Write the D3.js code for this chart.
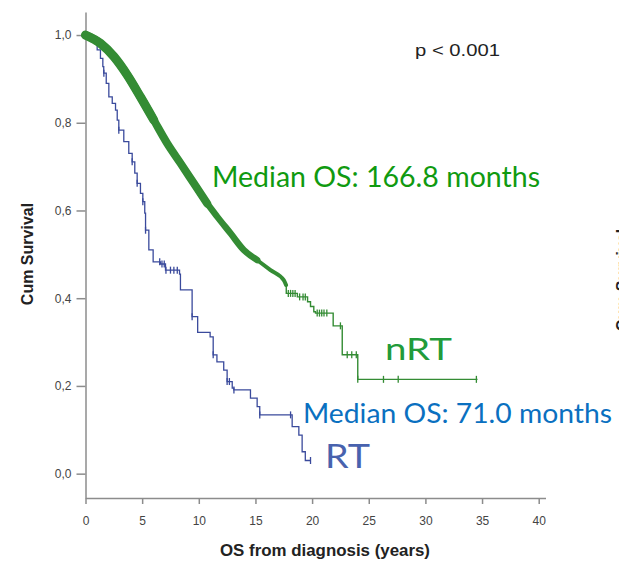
<!DOCTYPE html>
<html lang="en">
<head>
<meta charset="UTF-8">
<title>Cum Survival - OS from diagnosis</title>
<script src="https://d3js.org/d3.v7.min.js"></script>
<style>
  body { margin: 0; background: #fff; }
  svg { display: block; }
  .axis path, .axis line { stroke: #8c8c8c; stroke-width: 1.5; }
  .axis text { fill: #444; font-family: "Liberation Sans", Arial, sans-serif; font-size: 12px; }
</style>
</head>
<body>
<div id="chart"></div>
<script>
// values: time in years, cumulative survival

// RT group (step curve)
var rtTimes = [0, 0.5, 1.03, 1.32, 1.53, 1.61, 1.83, 2.06, 2.36, 2.65, 2.8, 2.94, 3.38, 3.82, 4.12, 4.35,
               4.56, 4.85, 5.06, 5.23, 5.3, 5.59, 5.97, 6.62, 7.06, 8.3, 8.38, 9.41, 9.9, 11.0, 11.27,
               11.6, 12.2, 12.5, 12.95, 13.09, 14.56, 15.15, 15.38, 18.24, 18.83, 19.12, 19.4];
var rtSurv  = [1.0, 0.985, 0.966, 0.947, 0.928, 0.913, 0.89, 0.859, 0.844, 0.829, 0.806, 0.783, 0.757, 0.73, 0.711, 0.685,
               0.662, 0.639, 0.62, 0.594, 0.555, 0.51, 0.483, 0.478, 0.464, 0.455, 0.419, 0.358, 0.322, 0.312, 0.271,
               0.255, 0.236, 0.21, 0.195, 0.191, 0.172, 0.153, 0.134, 0.107, 0.088, 0.05, 0.03];
var rtCensor = [1.62, 2.94, 4.12, 4.56, 5.06, 5.3, 6.55, 6.75, 6.95, 7.1, 7.5, 7.8, 8.1, 9.41, 11.27,
                12.5, 12.7, 13.1, 15.38, 18.1, 19.86];
var rtEnd = 19.86;

// nRT group: dense early part (many events and censorings)
var nrtTimes = [0, 1.32, 2.5, 3.68, 4.85, 6.03, 7.21, 8.38, 9.56, 10.74, 11.62, 12.8, 13.97, 15.15, 16.33, 17.5, 17.7];
var nrtSurv  = [1.0, 0.981, 0.951, 0.909, 0.859, 0.806, 0.753, 0.708, 0.662, 0.616, 0.586, 0.548, 0.51, 0.487, 0.464, 0.441, 0.43];
// nRT tail (step curve)
var nrtTailTimes = [17.7, 17.72, 18.7, 19.6, 19.86, 20.15, 20.3, 21.86, 22.66, 24.03];
var nrtTailSurv  = [0.43, 0.411, 0.403, 0.392, 0.381, 0.369, 0.366, 0.337, 0.271, 0.215];
var nrtCensor = [17.9, 18.1, 18.3, 18.5, 18.9, 19.2, 19.4, 20.45, 20.65, 20.85, 21.05, 21.3,
                 22.5, 23.1, 23.5, 23.9, 24.03, 26.3, 27.6, 34.5];
var nrtEnd = 34.6;

var xTicks = [0, 5, 10, 15, 20, 25, 30, 35, 40];
var yTicks = [0, 0.2, 0.4, 0.6, 0.8, 1.0];

var w = 619, h = 563;
var greenLine = '#348c34', blueLine = '#3a4a9c';

var svg = d3.select('#chart').append('svg')
    .attr('width', w)
    .attr('height', h);

var x = d3.scaleLinear().domain([0, 40.6]).range([85.5, 545.5]);
var y = d3.scaleLinear().domain([-0.0555, 1.0525]).range([498, 12]);

// axes
svg.append('g')
    .attr('class', 'axis')
    .attr('transform', 'translate(' + x(0) + ',0)')
    .call(d3.axisLeft(y).tickValues(yTicks).tickSize(9).tickPadding(5).tickSizeOuter(0)
        .tickFormat(function(d) { return d3.format('.1f')(d).replace('.', ','); }));

svg.append('g')
    .attr('class', 'axis')
    .attr('transform', 'translate(0,' + y.range()[0] + ')')
    .call(d3.axisBottom(x).tickValues(xTicks).tickSize(6).tickPadding(12).tickSizeOuter(0));

// axis titles
svg.append('text')
    .attr('transform', 'translate(33,254) rotate(-90)')
    .attr('text-anchor', 'middle')
    .style('font-family', '"Liberation Sans", Arial, sans-serif')
    .style('font-weight', 'bold')
    .style('font-size', '16px')
    .style('fill', '#222')
    .text('Cum Survival');

svg.append('text')
    .attr('x', 325)
    .attr('y', 556)
    .attr('text-anchor', 'middle')
    .attr('textLength', 210)
    .attr('lengthAdjust', 'spacingAndGlyphs')
    .style('font-family', '"Liberation Sans", Arial, sans-serif')
    .style('font-weight', 'bold')
    .style('font-size', '16px')
    .style('fill', '#222')
    .text('OS from diagnosis (years)');

// next panel's title, cut off at the right edge
svg.append('text')
    .attr('transform', 'translate(628,280) rotate(-90)')
    .attr('text-anchor', 'middle')
    .style('font-family', '"Liberation Sans", Arial, sans-serif')
    .style('font-weight', 'bold')
    .style('font-size', '16px')
    .style('fill', '#222')
    .text('Cum Survival');

function survAt(times, surv, t) {
    var i = d3.bisectRight(times, t) - 1;
    return surv[Math.max(i, 0)];
}

var stepLine = d3.line()
    .x(function(d) { return x(d[0]); })
    .y(function(d) { return y(d[1]); })
    .curve(d3.curveStepAfter);

var smoothLine = d3.line()
    .x(function(d) { return x(d[0]); })
    .y(function(d) { return y(d[1]); })
    .curve(d3.curveMonotoneX);

// RT curve
var rtPts = rtTimes.map(function(t, i) { return [t, rtSurv[i]]; });
rtPts.push([rtEnd, rtSurv[rtSurv.length - 1]]);
svg.append('path')
    .attr('d', stepLine(rtPts))
    .attr('fill', 'none')
    .attr('stroke', blueLine)
    .attr('stroke-width', 1.3);

svg.append('g').selectAll('line')
    .data(rtCensor)
    .enter().append('line')
    .attr('x1', function(d) { return x(d); })
    .attr('x2', function(d) { return x(d); })
    .attr('y1', function(d) { return y(survAt(rtTimes, rtSurv, d)) - 3.5; })
    .attr('y2', function(d) { return y(survAt(rtTimes, rtSurv, d)) + 3.5; })
    .attr('stroke', blueLine)
    .attr('stroke-width', 1.3);

// nRT tail
var tailPts = nrtTailTimes.map(function(t, i) { return [t, nrtTailSurv[i]]; });
tailPts.push([nrtEnd, nrtTailSurv[nrtTailSurv.length - 1]]);
svg.append('path')
    .attr('d', stepLine(tailPts))
    .attr('fill', 'none')
    .attr('stroke', greenLine)
    .attr('stroke-width', 1.4);

svg.append('g').selectAll('line')
    .data(nrtCensor)
    .enter().append('line')
    .attr('x1', function(d) { return x(d); })
    .attr('x2', function(d) { return x(d); })
    .attr('y1', function(d) { return y(survAt(nrtTailTimes, nrtTailSurv, d)) - 3.5; })
    .attr('y2', function(d) { return y(survAt(nrtTailTimes, nrtTailSurv, d)) + 3.5; })
    .attr('stroke', greenLine)
    .attr('stroke-width', 1.3);

// nRT dense part: censor marks merge into a thick band that thins out with time
var nrtPts = nrtTimes.map(function(t, i) { return [t, nrtSurv[i]]; });
var bands = [{upTo: 17.7, width: 4}, {upTo: 15.15, width: 6.5}, {upTo: 10.74, width: 8}, {upTo: 6.03, width: 9}];
svg.append('g').selectAll('path')
    .data(bands)
    .enter().append('path')
    .attr('d', function(b) { return smoothLine(nrtPts.filter(function(p) { return p[0] <= b.upTo; })); })
    .attr('fill', 'none')
    .attr('stroke', greenLine)
    .attr('stroke-linecap', 'round')
    .attr('stroke-linejoin', 'round')
    .attr('stroke-width', function(b) { return b.width; });

// annotations
svg.append('text')
    .attr('x', 415)
    .attr('y', 55.5)
    .attr('textLength', 85)
    .attr('lengthAdjust', 'spacingAndGlyphs')
    .style('font-family', '"Liberation Sans", Arial, sans-serif')
    .style('font-size', '17px')
    .style('fill', '#222')
    .text('p < 0.001');

var labels = [
    {text: 'Median OS: 166.8 months', x: 212, y: 187, len: 328, size: 28, color: '#109a10'},
    {text: 'nRT', x: 385, y: 360, len: 67, size: 30, color: '#229b3a'},
    {text: 'Median OS: 71.0 months', x: 303, y: 423, len: 309, size: 26, color: '#0a70c0'},
    {text: 'RT', x: 325, y: 468, len: 45, size: 32, color: '#4862ae'}
];
svg.append('g').selectAll('text')
    .data(labels)
    .enter().append('text')
    .attr('x', function(d) { return d.x; })
    .attr('y', function(d) { return d.y; })
    .attr('textLength', function(d) { return d.len; })
    .attr('lengthAdjust', 'spacingAndGlyphs')
    .style('font-family', 'Lato, "Open Sans", sans-serif')
    .style('font-size', function(d) { return d.size + 'px'; })
    .style('fill', function(d) { return d.color; })
    .text(function(d) { return d.text; });
</script>
</body>
</html>
